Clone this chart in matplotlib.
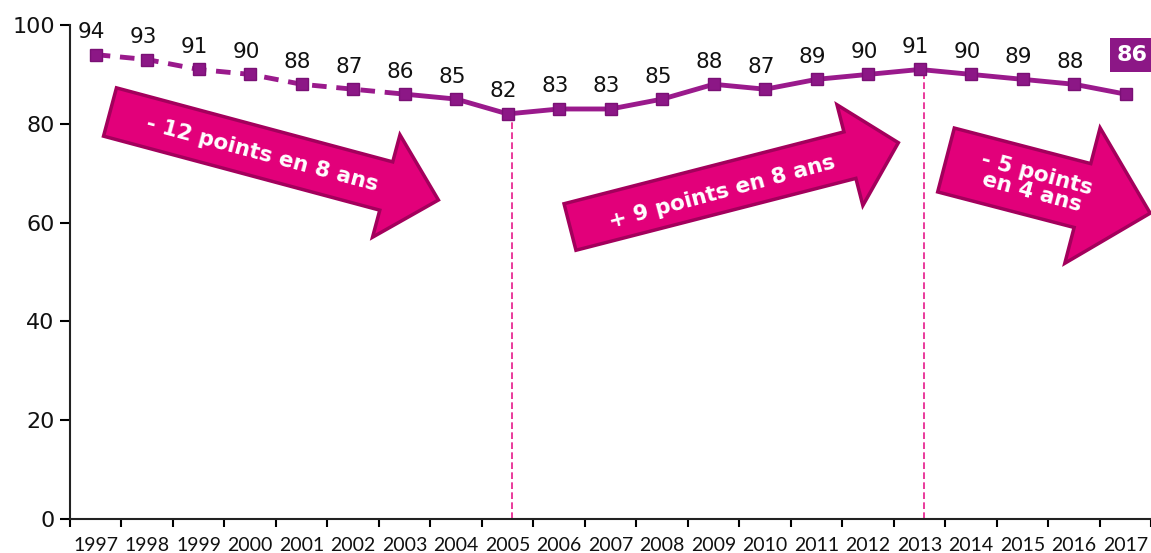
import numpy as np
import matplotlib
matplotlib.use("Agg")
import matplotlib.pyplot as plt
from matplotlib.patches import Polygon

# data
years = [str(y) for y in range(1997, 2018)]
values = [94, 93, 91, 90, 88, 87, 86, 85, 82, 83, 83, 85, 88, 87, 89, 90, 91, 90, 89, 88, 86]
dashed_until = 2003          # estimated part of the series (dashed)
marked_years = [2005, 2013]  # vertical markers

# arrows: (tail x, tail y, angle deg (down positive), length, tail hw, head len, head hw) in image px
arrows = [
    (110, 112, 15.0, 340, 25, 54, 53),
    (570, 227, -14.4, 339, 24, 50, 52),
    (946, 160, 14.6, 211, 33, 70, 70),
]
arrow_texts = [
    ("- 12 points en 8 ans", 262, 154, -15),
    ("+ 9 points en 8 ans", 722, 192, 15),
    ("- 5 points\nen 4 ans", 1034, 183, -15),
]

W, H = 1151, 553
line_col = "#9A1A8C"
mark_col = "#8C1786"
pink = "#E2007A"
pink_edge = "#A3005C"

fig = plt.figure(figsize=(W / 100, H / 100), dpi=100)
ax = fig.add_axes([70 / W, 34 / H, 1084 / W, 494 / H])

x = np.arange(len(years))
cut = years.index(str(dashed_until))
ax.plot(x[:cut + 1], values[:cut + 1], color=line_col, lw=3.5, ls=(0, (3, 2)), zorder=3)
ax.plot(x[cut:], values[cut:], color=line_col, lw=3.5, zorder=3)
ax.plot(x, values, ls="none", marker="s", ms=9, mfc=mark_col, mec="#7A1075", mew=1, zorder=4)

for yr in marked_years:
    i = years.index(str(yr))
    ax.vlines(i + 0.08, 0, values[i], color="#E6198A", lw=1.2, ls=(0, (4, 2)), zorder=2)

for i, v in enumerate(values[:-1]):
    ax.annotate(str(v), (x[i], v), xytext=(-3, 9), textcoords="offset points",
                ha="center", va="bottom", fontsize=15.5, color="#111111",
                family="DejaVu Sans")
ax.annotate(str(values[-1]), (x[-1], values[-1]), xytext=(5, 21), textcoords="offset points",
            ha="center", va="bottom", fontsize=16, fontweight="bold", color="white",
            family="DejaVu Sans",
            bbox=dict(boxstyle="square,pad=0.3", fc=mark_col, ec="none"), zorder=5)

ax.set_xlim(-0.5, len(years) - 0.45)
ax.set_ylim(0, 100)
ax.set_yticks(range(0, 101, 20))
ax.set_xticks(np.arange(-0.5, len(years), 1.0))
ax.set_xticklabels([])
ax.set_xticks(x, minor=True)
ax.set_xticklabels(years, minor=True, fontsize=14, family="Lato", color="#111111")
ax.tick_params(axis="x", which="major", length=6, width=1.5, direction="out")
ax.tick_params(axis="x", which="minor", length=0, pad=13)
ax.tick_params(axis="y", length=7, width=1.5, pad=4, labelsize=16, labelcolor="#111111")
for lab in ax.get_yticklabels():
    lab.set_family("DejaVu Sans")
for s in ["top", "right"]:
    ax.spines[s].set_visible(False)
for s in ["left", "bottom"]:
    ax.spines[s].set_linewidth(1.5)
    ax.spines[s].set_color("#222222")


def to_fig(px, py):
    return (px / W, 1 - py / H)


for tx, ty, ang, L, thw, hl, hhw in arrows:
    a = np.radians(ang)
    u = np.array([np.cos(a), np.sin(a)])
    n = np.array([-u[1], u[0]])
    t = np.array([tx, ty])
    b = t + u * (L - hl)
    pts = [t + n * thw, b + n * thw, b + n * hhw, t + u * L,
           b - n * hhw, b - n * thw, t - n * thw]
    poly = Polygon([to_fig(*p) for p in pts], closed=True, transform=fig.transFigure,
                   fc=pink, ec=pink_edge, lw=2.5, joinstyle="miter", zorder=6)
    fig.add_artist(poly)

for txt, cx, cy, rot in arrow_texts:
    fx, fy = to_fig(cx, cy)
    fig.text(fx, fy, txt, ha="center", va="center", rotation=rot, rotation_mode="anchor",
             color="white", fontsize=15.5, fontweight="bold", family="DejaVu Sans",
             linespacing=0.95, zorder=7)

fig.savefig("out.png", dpi=100)
